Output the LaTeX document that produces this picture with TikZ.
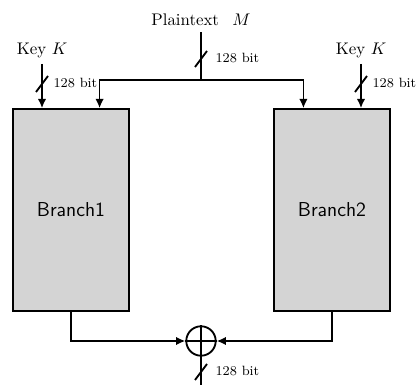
\documentclass[tikz,border=0pt]{standalone}
\usetikzlibrary{arrows.meta}
\tikzset{
  branch/.style={draw,fill=black!17,minimum width=69pt,minimum height=120pt,font=\sffamily\large},
  bits/.style={anchor=west,inner sep=1pt,font=\footnotesize},
  bus/.pic={\draw (-6,8)--(6,-8);}
}
\begin{document}
\begin{tikzpicture}[x=0.595pt,y=-0.595pt,line width=1.1pt,>={Latex[length=5.5pt,width=5pt]}]
\useasboundingbox (0,0) rectangle (416,385);
% inputs
\node (pt) at (201,20) {Plaintext\hspace{8pt}$M$};
\node (k1) at (42,50) {Key $K$};
\node (k2) at (361,50) {Key $K$};
\coordinate (split) at (201,80);
% branches
\node (b1) [branch] at (71,210) {Branch1};
\node (b2) [branch] at (332,210) {Branch2};
% xor
\node (xor) [circle,draw,minimum size=17.5pt,inner sep=0pt] at (201,341) {};
\coordinate (out) at (201,385);

\draw (pt) -- (split);
\draw[->] (split) -| ([xshift=17pt]b1.north);
\draw[->] (split) -| ([xshift=-17pt]b2.north);
\draw[->] (k1) -- (k1 |- b1.north);
\draw[->] (k2) -- (k2 |- b2.north);
\draw[->] (b1.south) |- (xor.west);
\draw[->] (b2.south) |- (xor.east);
\draw (xor.west) -- (xor.east);
\draw (xor.north) -- (out);

% bus widths
\pic at (201,59) {bus};
\node (w0) [bits] at (213,58) {128 bit};
\pic at (42,84) {bus};
\node (w1) [bits] at (51,83) {128 bit};
\pic at (361,84) {bus};
\node (w2) [bits] at (370,83) {128 bit};
\pic at (201,372) {bus};
\node (w3) [bits] at (213,371) {128 bit};
\end{tikzpicture}
\end{document}
